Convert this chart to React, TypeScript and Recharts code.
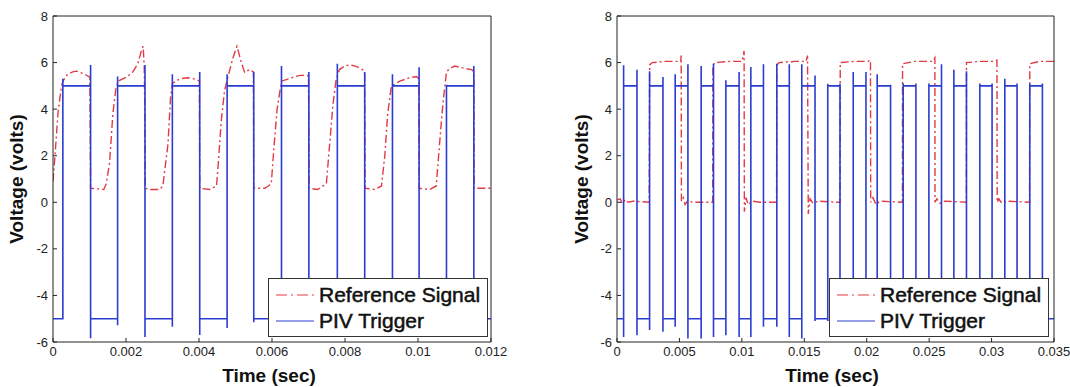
import React from 'react';
import { LineChart, Line, XAxis, YAxis, Legend } from 'recharts';

// ---- left panel: 0 .. 0.012 s ----
const leftTicksX = [0, 0.002, 0.004, 0.006, 0.008, 0.01, 0.012];
const leftTrigEdges = [0.00027, 0.00103, 0.00177, 0.00252, 0.00327, 0.00402, 0.00477, 0.0055, 0.00626, 0.00701, 0.00779, 0.00854, 0.0093, 0.01003, 0.01078, 0.01153];
const leftTrigTop = [5.3, 5.9, 5.4, 5.9, 5.5, 5.6, 5.5, 5.6, 5.85, 5.6, 5.95, 5.6, 5.5, 5.8, 5.05, 5.85];
const leftTrigBottom = [-5.0, -5.84, -5.28, -5.78, -5.35, -5.7, -5.4, -5.15, -5.6, -5.5, -5.6, -5.5, -5.6, -5.5, -5.6, -5.5];

const leftRefT = [
  0, 0.00005, 0.00014, 0.00023, 0.00027, 0.0004, 0.00054, 0.00064, 0.00087, 0.00101, 0.00103,
  0.00139, 0.00146, 0.00155, 0.00164, 0.00172, 0.00178, 0.00201, 0.00218, 0.00232, 0.00242, 0.00247, 0.0025, 0.00252, 0.00253,
  0.00265, 0.00292, 0.00301, 0.00315, 0.00322, 0.00327, 0.00347, 0.00369, 0.00393, 0.00401, 0.00402,
  0.00429, 0.00448, 0.00452, 0.00461, 0.0047, 0.00479, 0.00493, 0.00504, 0.00516, 0.00525, 0.00539, 0.00549, 0.0055,
  0.0058, 0.0059, 0.00598, 0.00606, 0.00614, 0.00626, 0.00658, 0.00676, 0.00698, 0.007, 0.00702,
  0.00725, 0.00749, 0.00758, 0.00767, 0.00776, 0.00785, 0.00799, 0.00813, 0.00829, 0.00848, 0.00854, 0.00855,
  0.00881, 0.009, 0.00909, 0.00917, 0.00927, 0.0095, 0.00977, 0.00996, 0.01002, 0.01003,
  0.01032, 0.0105, 0.01059, 0.01068, 0.01078, 0.01087, 0.01101, 0.01128, 0.01147, 0.01153, 0.01154, 0.012,
];
const leftRefV = [
  0.9, 1.9, 3.9, 4.95, 5.2, 5.5, 5.6, 5.63, 5.5, 5.37, 0.6,
  0.55, 0.8, 1.7, 3.8, 4.85, 5.2, 5.37, 5.58, 5.94, 6.5, 6.7, 5.8, 3.5, 0.6,
  0.55, 0.55, 0.7, 2.5, 4.5, 5.1, 5.3, 5.35, 5.28, 5.2, 0.6,
  0.55, 0.7, 1.5, 3.5, 4.8, 5.37, 6.2, 6.7, 6.0, 5.58, 5.7, 5.6, 0.6,
  0.6, 0.7, 0.8, 2.5, 4.0, 5.2, 5.37, 5.45, 5.45, 5.3, 0.6,
  0.55, 0.8, 2.5, 4.2, 5.3, 5.7, 5.85, 5.9, 5.85, 5.7, 5.5, 0.6,
  0.55, 0.7, 2.0, 3.8, 5.0, 5.2, 5.35, 5.4, 5.3, 0.6,
  0.55, 0.7, 2.5, 4.2, 5.6, 5.75, 5.85, 5.75, 5.7, 5.6, 0.6, 0.6,
];

// ---- right panel: 0 .. 0.035 s ----
const rightTicksX = [0, 0.005, 0.01, 0.015, 0.02, 0.025, 0.03, 0.035];
const rightTrigEdges = [0.00053, 0.0016, 0.00261, 0.00368, 0.00466, 0.00568, 0.00674, 0.00773, 0.00872, 0.00978, 0.01072, 0.01173, 0.0128, 0.0138, 0.0148, 0.01586, 0.01688, 0.01786, 0.01892, 0.01994, 0.02084, 0.02191, 0.02292, 0.02394, 0.02498, 0.02599, 0.02698, 0.02799, 0.02906, 0.03004, 0.03106, 0.03204, 0.03306, 0.03407];
const rightTrigTop = [5.88, 5.69, 5.63, 5.38, 5.5, 5.93, 5.85, 5.95, 5.24, 5.59, 5.81, 5.93, 5.95, 5.93, 5.93, 5.45, 5.09, 5.1, 5.59, 5.59, 5.5, 5.05, 5.1, 5.1, 5.1, 5.93, 5.69, 5.63, 5.1, 5.1, 5.3, 5.1, 5.1, 5.1];
const rightTrigBottom = [-5.78, -5.71, -5.49, -5.56, -5.35, -5.85, -5.85, -5.78, -5.71, -5.78, -5.78, -5.35, -5.35, -5.78, -5.85, -5.1, -5.1, -5.5, -5.6, -5.5, -5.6, -5.5, -5.6, -5.5, -5.6, -5.5, -5.6, -5.5, -5.6, -5.5, -5.6, -5.5, -5.6, -5.5];

const rightRefT = [
  0, 0.00026, 0.00042, 0.00066, 0.0009, 0.0013, 0.00258, 0.00261, 0.00282, 0.00386, 0.0049, 0.0051, 0.00514, 0.00516,
  0.0053, 0.00546, 0.0057, 0.00602, 0.00714, 0.00766, 0.00768, 0.00786, 0.00906, 0.01002, 0.01018, 0.0102,
  0.01034, 0.0105, 0.01082, 0.01146, 0.01278, 0.0128, 0.01298, 0.01426, 0.01514, 0.01526, 0.01532,
  0.01546, 0.0157, 0.0161, 0.0177, 0.01786, 0.01788, 0.01906, 0.0201, 0.0203, 0.02032,
  0.0205, 0.02074, 0.02106, 0.02286, 0.02287, 0.02386, 0.0253, 0.02546, 0.02547,
  0.02562, 0.02586, 0.02626, 0.02798, 0.02799, 0.02906, 0.03026, 0.03043, 0.03045,
  0.03058, 0.03082, 0.03122, 0.03304, 0.03306, 0.03386, 0.035,
];
const rightRefV = [
  0.1, 0.15, -0.05, 0.12, 0.0, 0.05, 0.0, 5.9, 6.0, 6.05, 6.05, 6.05, 6.3, 0.05,
  0.2, -0.1, 0.1, 0.0, 0.0, 0.0, 5.9, 6.0, 6.05, 6.05, 6.5, -0.4,
  0.2, -0.1, 0.05, 0.0, 0.0, 5.9, 6.0, 6.05, 6.05, 6.3, -0.5,
  0.15, -0.05, 0.05, 0.0, 0.0, 6.0, 6.05, 6.05, 6.1, 0.0,
  0.2, -0.1, 0.05, 0.0, 5.95, 6.05, 6.05, 6.2, 0.0,
  0.15, -0.05, 0.05, 0.0, 6.0, 6.05, 6.05, 6.1, 0.0,
  0.15, -0.05, 0.05, 0.0, 5.95, 6.05, 6.05,
];

const yTicks = [-6, -4, -2, 0, 2, 4, 6, 8];

const RED = '#e23a44';
const BLUE = '#2b3cd0';
const AXIS = '#222';
const DASHDOT = '8 3 2 3';

// square trigger wave built from the read edge times / spike levels
function trigger(edges: number[], tops: number[], bottoms: number[], tEnd: number) {
  const pts: { t: number; v: number }[] = [{ t: 0, v: -5 }];
  let high = false;
  edges.forEach((t, i) => {
    if (!high) pts.push({ t, v: -5 }, { t, v: bottoms[i] }, { t, v: tops[i] }, { t, v: 5 });
    else pts.push({ t, v: 5 }, { t, v: tops[i] }, { t, v: bottoms[i] }, { t, v: -5 });
    high = !high;
  });
  pts.push({ t: tEnd, v: high ? 5 : -5 });
  return pts;
}

const zip = (ts: number[], vs: number[]) => ts.map((t, i) => ({ t, v: vs[i] }));

const fmt = (v: number) => (v === 0 ? '0' : String(+v.toFixed(3)));

const tickFont = { fontSize: 13, fontFamily: '"Liberation Sans Narrow", "Liberation Sans", Arial, sans-serif', fill: '#222' };
const noLabel = () => <g />;

function PlotLegend() {
  return (
    <div
      style={{
        boxSizing: 'border-box',
        width: '100%',
        height: '100%',
        border: '1.5px solid #333',
        background: '#fff',
        fontFamily: '"Liberation Sans", Arial, sans-serif',
        fontSize: 21,
        color: '#111',
        paddingTop: 3,
      }}
    >
      {[
        { name: 'Reference Signal', color: RED, dash: '11 4 2 4' },
        { name: 'PIV Trigger', color: BLUE, dash: undefined },
      ].map((it) => (
        <div key={it.name} style={{ display: 'flex', alignItems: 'center', height: 26 }}>
          <svg width={50} height={10} style={{ flex: 'none' }}>
            <line x1={7} x2={45} y1={5} y2={5} stroke={it.color} strokeWidth={1.2} strokeDasharray={it.dash} />
          </svg>
          <span style={{ whiteSpace: 'nowrap', WebkitTextStroke: '0.5px #111' }}>{it.name}</span>
        </div>
      ))}
    </div>
  );
}

interface PanelProps {
  xMax: number;
  xTicks: number[];
  refData: { t: number; v: number }[];
  trigData: { t: number; v: number }[];
  marginLeft: number;
  marginRight: number;
  legendLeft: number;
}

function Panel({ xMax, xTicks, refData, trigData, marginLeft, marginRight, legendLeft }: PanelProps) {
  return (
    <LineChart width={535} height={387} margin={{ top: 15, right: marginRight, bottom: 15, left: marginLeft }}>
      <XAxis
        xAxisId="b"
        dataKey="t"
        type="number"
        domain={[0, xMax]}
        ticks={xTicks}
        interval={0}
        allowDataOverflow
        tickFormatter={fmt}
        height={30}
        tickSize={-4}
        tickMargin={9}
        tick={tickFont}
        stroke={AXIS}
      />
      <XAxis xAxisId="t" orientation="top" dataKey="t" type="number" domain={[0, xMax]} ticks={xTicks} interval={0} height={1} tickSize={-4} tick={noLabel} stroke={AXIS} />
      <YAxis
        yAxisId="l"
        type="number"
        domain={[-6, 8]}
        ticks={yTicks}
        interval={0}
        allowDataOverflow
        width={40}
        tickSize={-4}
        tickMargin={9}
        tick={tickFont}
        stroke={AXIS}
      />
      <YAxis yAxisId="r" orientation="right" type="number" domain={[-6, 8]} ticks={yTicks} interval={0} width={1} tickSize={-4} tick={noLabel} stroke={AXIS} />
      <Line
        xAxisId="b"
        yAxisId="l"
        data={refData}
        dataKey="v"
        name="Reference Signal"
        type="linear"
        stroke={RED}
        strokeWidth={1.4}
        strokeDasharray={DASHDOT}
        dot={false}
        isAnimationActive={false}
      />
      <Line
        xAxisId="b"
        yAxisId="l"
        data={trigData}
        dataKey="v"
        name="PIV Trigger"
        type="linear"
        stroke={BLUE}
        strokeWidth={1.6}
        dot={false}
        isAnimationActive={false}
      />
      <Legend
        layout="horizontal"
        align="center"
        verticalAlign="middle"
        content={() => <PlotLegend />}
        wrapperStyle={{ left: legendLeft, top: 278, width: 220, height: 59 }}
      />
    </LineChart>
  );
}

const titleStyle: React.CSSProperties = {
  position: 'absolute',
  fontFamily: '"Liberation Sans", Arial, sans-serif',
  fontWeight: 'bold',
  fontSize: 19,
  color: '#111',
  whiteSpace: 'nowrap',
  lineHeight: '20px',
};

export default function App() {
  const leftRef = zip(leftRefT, leftRefV);
  const leftTrig = trigger(leftTrigEdges, leftTrigTop, leftTrigBottom, 0.012);
  const rightRef = zip(rightRefT, rightRefV);
  const rightTrig = trigger(rightTrigEdges, rightTrigTop, rightTrigBottom, 0.035);

  return (
    <div style={{ position: 'absolute', left: 0, top: 0, width: 1070, height: 387, background: '#fff', overflow: 'hidden' }}>
      <div style={{ position: 'absolute', left: 0, top: 0 }}>
        <Panel xMax={0.012} xTicks={leftTicksX} refData={leftRef} trigData={leftTrig} marginLeft={13} marginRight={43} legendLeft={268} />
      </div>
      <div style={{ position: 'absolute', left: 535, top: 0 }}>
        <Panel xMax={0.035} xTicks={rightTicksX} refData={rightRef} trigData={rightTrig} marginLeft={42} marginRight={15} legendLeft={294} />
      </div>
      <div style={{ ...titleStyle, left: 17, top: 179, transform: 'translate(-50%, -50%) rotate(-90deg)' }}>Voltage (volts)</div>
      <div style={{ ...titleStyle, left: 582, top: 179, transform: 'translate(-50%, -50%) rotate(-90deg)' }}>Voltage (volts)</div>
      <div style={{ ...titleStyle, left: 269, top: 376, transform: 'translate(-50%, -50%)' }}>Time (sec)</div>
      <div style={{ ...titleStyle, left: 832, top: 376, transform: 'translate(-50%, -50%)' }}>Time (sec)</div>
    </div>
  );
}
